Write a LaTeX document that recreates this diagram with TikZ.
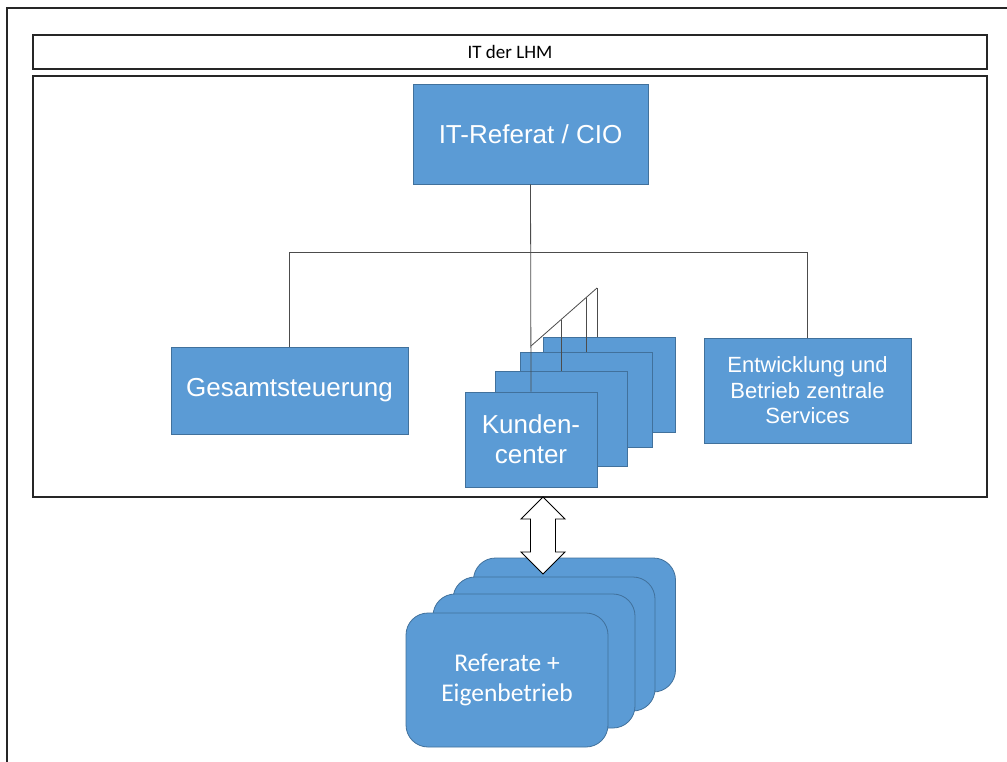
\documentclass[tikz,border=0pt]{standalone}
\usepackage{fontspec}
\newfontfamily\sansf{Liberation Sans}
\newfontfamily\calf{Carlito}
\definecolor{boxfill}{HTML}{5B9BD5}
\definecolor{boxedge}{HTML}{41719C}
\begin{document}
\begin{tikzpicture}[x=1pt,y=-1pt,
  frame/.style={draw=black!85, line width=1.4pt},
  link/.style={draw=black!70, line width=0.8pt},
  blue/.style={draw=boxedge, fill=boxfill, line width=0.8pt, text=white,
    inner sep=0pt, align=center},
  card/.style={blue, font=\sansf\fontsize{26}{30}\selectfont},
  kc/.style={blue, minimum width=132, minimum height=95,
    font=\sansf\fontsize{26}{30}\selectfont},
  org/.style={blue, rounded corners=22pt, minimum width=202, minimum height=134,
    font=\calf\fontsize{25.5}{30}\selectfont}]
\useasboundingbox (0,0) rectangle (1007,762);
\fill[white] (0,0) rectangle (1007,762);

% outer frame (open to the right and bottom)
\draw[frame] (7,762) -- (7,8) -- (1007,8);

% title bar and organisation frame
\node[frame, minimum width=954, minimum height=34, inner sep=0pt,
  font=\calf\fontsize{19}{22}\selectfont] (itlhm) at (510,52) {IT der LHM};
\node[frame, minimum width=954, minimum height=421] (main) at (510,286.5) {};

% top unit
\node[card, minimum width=235, minimum height=100] (cio) at (530.5,134) {IT-Referat / CIO};

% departments
\node[card, minimum width=237, minimum height=87] (gs) at (289.5,390.5) {Gesamtsteuerung};
\node[blue, minimum width=207, minimum height=105,
  font=\sansf\fontsize{22}{25.5}\selectfont] (ebz) at (807.5,390.5)
  {Entwicklung und\\Betrieb zentrale\\Services};

% stack of customer centres
\node[kc] (k4) at (609.5,384.5) {};
\node[kc] (k3) at (586,399.5) {};
\node[kc] (k2) at (561,418.5) {};
\node[kc] (k1) at (531,439.5) {Kunden-\\center};

% hierarchy connectors
\coordinate (bar) at (0,252);
\draw[link] (gs.north) -- (gs.north |- bar) -- (ebz.north |- bar) -- (ebz.north);
\draw[link] (cio.south) -- (k1.north);
\coordinate (d0) at (531,346);
\coordinate (d3) at (597,288);
\coordinate (t2) at (561,319.6);
\coordinate (t3) at (586,297.7);
\draw[link] (d0) -- (d3);
\draw[link] (t2) -- (t2 |- k2.north);
\draw[link] (t3) -- (t3 |- k3.north);
\draw[link] (d3) -- (d3 |- k4.north);

% stack of departments and own enterprises
\node[org] (r4) at (574.5,625) {};
\node[org] (r3) at (554,644) {};
\node[org] (r2) at (534,661) {};
\node[org] (r1) at (507,680) {Referate +\\Eigenbetrieb};

% two-way exchange arrow
\draw[fill=white, draw=black, line width=0.9pt]
  (543,497) -- (565,519) -- (555.5,519) -- (555.5,552) -- (565,552)
  -- (543,574) -- (521,552) -- (530.5,552) -- (530.5,519) -- (521,519) -- cycle;
\end{tikzpicture}
\end{document}
